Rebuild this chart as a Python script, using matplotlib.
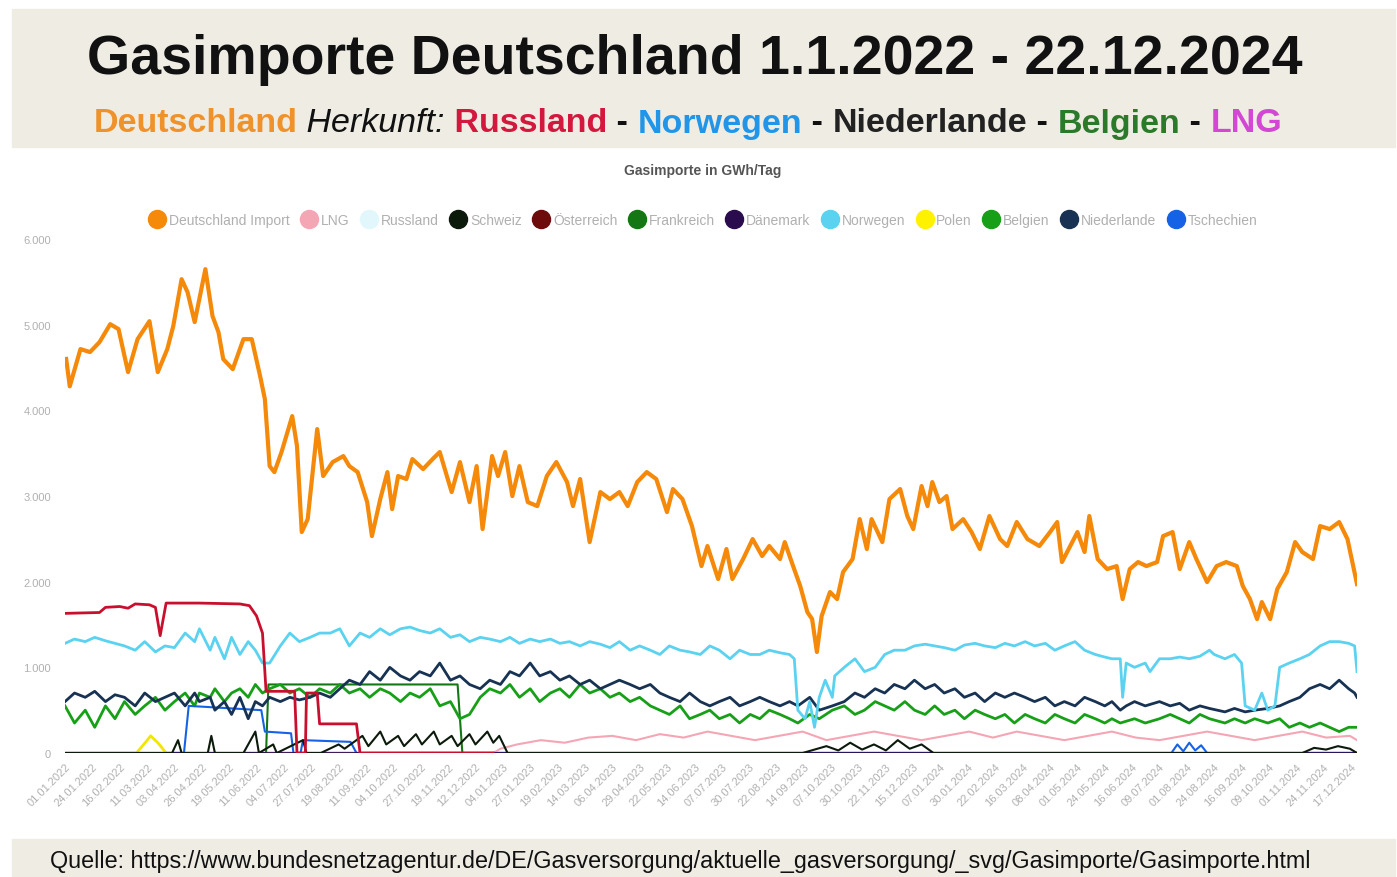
import numpy as np
import pandas as pd
import matplotlib
matplotlib.use('Agg')
import matplotlib.pyplot as plt
from matplotlib.lines import Line2D
from matplotlib.patches import Rectangle

plt.rcParams['font.family'] = ['Liberation Sans', 'DejaVu Sans']

# Daten (Tage seit 01.01.2022, Werte in GWh/Tag)
tage_de = [1, 4, 13, 21, 29, 38, 45, 53, 61, 71, 78, 86, 91, 98, 103, 109, 118, 124, 129, 133,
           141, 150, 157, 164, 168, 172, 176, 182, 191, 195, 199, 204, 212, 217, 225, 234, 239, 246, 254, 258,
           265, 271, 275, 280, 287, 292, 301, 309, 315, 325, 332, 340, 346, 351, 359, 364, 370, 376, 382, 389,
           397, 405, 413, 422, 427, 433, 441, 450, 458, 466, 473, 481, 489, 497, 506, 511, 519, 527, 535, 540,
           549, 556, 561, 570, 578, 586, 592, 601, 605, 612, 618, 624, 628, 632, 636, 643, 649, 654, 662, 668,
           674, 678, 687, 693, 702, 708, 713, 720, 725, 729, 735, 741, 746, 755, 762, 769, 777, 786, 792, 800,
           809, 819, 828, 834, 838, 845, 851, 857, 861, 868, 876, 884, 889, 895, 902, 909, 918, 923, 931, 937,
           945, 951, 960, 968, 976, 985, 990, 996, 1002, 1006, 1013, 1019, 1027, 1034, 1040, 1049, 1055, 1063, 1071, 1078,
           1086]
werte_de = [4600, 4280, 4715, 4680, 4796, 5006, 4948, 4446, 4831, 5041, 4446, 4715, 4983, 5531, 5380, 5030, 5648, 5100, 4913, 4598,
            4481, 4831, 4831, 4400, 4131, 3349, 3279, 3513, 3933, 3583, 2579, 2730, 3781, 3233, 3396, 3466, 3349, 3279, 2929, 2532,
            2964, 3279, 2847, 3233, 3198, 3431, 3314, 3431, 3513, 3046, 3396, 2929, 3349, 2614, 3466, 3233, 3513, 2999, 3349, 2929,
            2882, 3233, 3396, 3163, 2882, 3198, 2462, 3046, 2964, 3046, 2882, 3163, 3279, 3198, 2812, 3081, 2964, 2649, 2182, 2416,
            2031, 2381, 2031, 2264, 2497, 2299, 2416, 2264, 2462, 2182, 1949, 1645, 1563, 1179, 1599, 1879, 1797, 2112, 2264, 2730,
            2381, 2730, 2462, 2964, 3081, 2766, 2614, 3116, 2882, 3163, 2929, 2999, 2614, 2730, 2579, 2381, 2766, 2497, 2416, 2696,
            2497, 2416, 2579, 2696, 2229, 2416, 2579, 2346, 2766, 2264, 2147, 2182, 1797, 2147, 2229, 2182, 2229, 2532, 2579, 2147,
            2462, 2264, 1995, 2182, 2229, 2182, 1949, 1797, 1563, 1762, 1563, 1914, 2112, 2462, 2346, 2264, 2649, 2614, 2696, 2497,
            1972]

tage_no = [0, 8, 17, 25, 34, 42, 50, 59, 67, 76, 84, 92, 101, 109, 113, 122, 126, 134, 140, 147,
           154, 160, 166, 172, 181, 189, 197, 206, 214, 223, 231, 239, 248, 256, 265, 273, 282, 290, 298, 307,
           315, 324, 332, 340, 349, 357, 366, 374, 382, 391, 399, 408, 416, 424, 433, 441, 450, 458, 466, 475,
           483, 492, 500, 508, 517, 525, 534, 542, 550, 559, 567, 576, 584, 592, 601, 609, 613, 616, 622, 626,
           630, 634, 639, 645, 647, 655, 664, 672, 681, 689, 697, 706, 714, 723, 731, 739, 748, 756, 765, 773,
           782, 790, 798, 807, 815, 824, 832, 840, 849, 857, 866, 874, 880, 887, 889, 892, 899, 908, 912, 920,
           929, 937, 945, 954, 962, 966, 975, 983, 989, 992, 1000, 1006, 1011, 1017, 1021, 1029, 1038, 1046, 1055, 1063,
           1071, 1079, 1084, 1086]
werte_no = [1280, 1330, 1300, 1350, 1310, 1280, 1250, 1200, 1300, 1180, 1250, 1230, 1400, 1300, 1450, 1200, 1350, 1100, 1350, 1150,
            1300, 1200, 1050, 1050, 1250, 1400, 1300, 1350, 1400, 1400, 1450, 1250, 1400, 1350, 1450, 1380, 1450, 1470, 1430, 1400,
            1450, 1350, 1380, 1300, 1350, 1330, 1300, 1350, 1280, 1330, 1300, 1330, 1280, 1300, 1250, 1300, 1270, 1230, 1300, 1200,
            1250, 1200, 1150, 1250, 1200, 1180, 1150, 1250, 1200, 1100, 1200, 1150, 1150, 1200, 1170, 1150, 1100, 500, 400, 600,
            300, 650, 850, 650, 900, 1000, 1100, 950, 1000, 1150, 1200, 1200, 1250, 1270, 1250, 1230, 1200, 1260, 1280, 1250,
            1230, 1280, 1250, 1300, 1250, 1280, 1200, 1250, 1300, 1200, 1150, 1120, 1100, 1100, 650, 1050, 1000, 1050, 950, 1100,
            1100, 1120, 1100, 1130, 1200, 1150, 1100, 1150, 1050, 550, 500, 700, 500, 550, 1000, 1050, 1100, 1150, 1250, 1300,
            1300, 1280, 1250, 950]

tage_nl = [0, 8, 17, 25, 34, 42, 50, 59, 67, 76, 84, 92, 101, 109, 113, 122, 126, 134, 140, 147,
           154, 160, 166, 172, 181, 189, 197, 206, 214, 223, 231, 239, 248, 256, 265, 273, 282, 290, 298, 307,
           315, 324, 332, 340, 349, 357, 366, 374, 382, 391, 399, 408, 416, 424, 433, 441, 450, 458, 466, 475,
           483, 492, 500, 508, 517, 525, 534, 542, 550, 559, 567, 576, 584, 592, 601, 609, 616, 626, 634, 645,
           655, 664, 672, 681, 689, 697, 706, 714, 723, 731, 739, 748, 756, 765, 773, 782, 790, 798, 807, 815,
           824, 832, 840, 849, 857, 866, 874, 880, 887, 892, 899, 908, 920, 929, 937, 945, 954, 962, 975, 983,
           992, 1000, 1011, 1021, 1029, 1038, 1046, 1055, 1063, 1071, 1079, 1084, 1086]
werte_nl = [600, 700, 650, 720, 600, 680, 650, 550, 700, 600, 650, 700, 550, 700, 600, 650, 500, 600, 450, 650,
            400, 600, 550, 650, 600, 650, 620, 650, 700, 650, 750, 850, 800, 950, 850, 1000, 900, 850, 950, 900,
            1050, 850, 900, 800, 750, 850, 800, 950, 900, 1050, 900, 950, 850, 900, 800, 850, 750, 800, 850, 800,
            750, 800, 700, 650, 600, 700, 600, 550, 600, 650, 550, 600, 650, 600, 550, 600, 550, 650, 500, 550,
            600, 700, 650, 750, 700, 800, 750, 850, 750, 800, 700, 750, 650, 700, 600, 700, 650, 700, 650, 600,
            650, 550, 600, 550, 650, 600, 550, 600, 500, 550, 600, 550, 600, 550, 580, 500, 550, 520, 480, 520,
            480, 500, 520, 550, 600, 650, 750, 800, 750, 850, 750, 700, 650]

tage_be = [0, 8, 17, 25, 34, 42, 50, 59, 67, 76, 84, 92, 101, 109, 113, 122, 126, 134, 140, 147,
           154, 160, 166, 172, 181, 189, 197, 206, 214, 223, 231, 239, 248, 256, 265, 273, 282, 290, 298, 307,
           315, 324, 332, 340, 349, 357, 366, 374, 382, 391, 399, 408, 416, 424, 433, 441, 450, 458, 466, 475,
           483, 492, 500, 508, 517, 525, 534, 542, 550, 559, 567, 576, 584, 592, 601, 609, 616, 626, 634, 645,
           655, 664, 672, 681, 689, 697, 706, 714, 723, 731, 739, 748, 756, 765, 773, 782, 790, 798, 807, 815,
           824, 832, 840, 849, 857, 866, 874, 880, 887, 899, 908, 920, 929, 937, 945, 954, 962, 975, 983, 992,
           1000, 1011, 1021, 1029, 1038, 1046, 1055, 1063, 1071, 1079, 1086]
werte_be = [550, 350, 500, 300, 550, 400, 600, 450, 550, 650, 500, 600, 700, 550, 700, 650, 750, 600, 700, 750,
            650, 800, 700, 750, 800, 700, 750, 650, 750, 700, 800, 700, 750, 650, 750, 700, 600, 700, 650, 750,
            550, 600, 400, 450, 650, 750, 700, 800, 650, 750, 600, 700, 750, 650, 800, 700, 750, 650, 700, 600,
            650, 550, 500, 450, 550, 400, 450, 500, 400, 450, 350, 450, 400, 500, 450, 400, 350, 450, 400, 500,
            550, 450, 500, 600, 550, 500, 600, 500, 450, 550, 450, 500, 400, 500, 450, 400, 450, 350, 450, 400,
            350, 450, 400, 350, 450, 400, 350, 400, 350, 400, 350, 400, 450, 400, 350, 450, 400, 350, 400, 350,
            400, 350, 400, 300, 350, 300, 350, 300, 250, 300, 300]

tage_fr = [0, 169, 171, 330, 334, 1086]
werte_fr = [0, 0, 800, 800, 0, 0]

tage_ru = [0, 29, 34, 46, 53, 59, 71, 76, 80, 85, 113, 147, 155, 161, 166, 169, 193, 195, 202, 203,
           212, 214, 245, 248, 360]
werte_ru = [1630, 1640, 1700, 1710, 1690, 1740, 1730, 1700, 1370, 1750, 1750, 1740, 1720, 1600, 1400, 720, 720, 0, 0, 700,
            700, 340, 340, 0, 0]

tage_lng = [0, 360, 366, 380, 400, 420, 440, 460, 480, 500, 520, 540, 560, 580, 600, 620, 640, 660, 680, 700,
            720, 740, 760, 780, 800, 820, 840, 860, 880, 900, 920, 940, 960, 980, 1000, 1020, 1040, 1060, 1080, 1086]
werte_lng = [0, 0, 50, 100, 150, 120, 180, 200, 150, 220, 180, 250, 200, 150, 200, 250, 150, 200, 250, 200,
             150, 200, 250, 180, 250, 200, 150, 200, 250, 180, 150, 200, 250, 200, 150, 200, 250, 180, 200, 150]

tage_cz = [0, 100, 104, 165, 168, 190, 192, 198, 200, 240, 245, 930, 935, 940, 945, 950, 955, 960, 1086]
werte_cz = [0, 0, 550, 500, 250, 230, 0, 0, 150, 130, 0, 0, 100, 20, 120, 30, 90, 0, 0]

tage_ch = [0, 90, 95, 98, 120, 123, 126, 150, 160, 163, 175, 178, 200, 203, 215, 230, 235, 250, 255, 265,
           270, 280, 285, 295, 300, 310, 315, 325, 330, 340, 345, 355, 360, 365, 372, 620, 640, 650, 660, 670,
           680, 690, 700, 710, 720, 730, 1040, 1050, 1060, 1070, 1080, 1086]
werte_ch = [0, 0, 150, 0, 0, 200, 0, 0, 250, 0, 100, 0, 150, 0, 0, 100, 50, 200, 80, 250,
            100, 200, 80, 220, 100, 250, 100, 200, 80, 220, 100, 250, 120, 200, 0, 0, 80, 30, 120, 40,
            100, 30, 150, 50, 100, 0, 0, 60, 40, 80, 50, 0]

tage_pl = [0, 60, 65, 72, 78, 85, 1086]
werte_pl = [0, 0, 80, 200, 120, 0, 0]

tage_null = [0, 1086]
werte_null = [0, 0]

legende = ['Deutschland Import', 'LNG', 'Russland', 'Schweiz', 'Österreich', 'Frankreich',
           'Dänemark', 'Norwegen', 'Polen', 'Belgien', 'Niederlande', 'Tschechien']
farben = ['#f5890a', '#f4a6b4', '#e2f7fb', '#0b1a0b', '#6e0b0b', '#137813',
          '#2a0c4e', '#5ad2f0', '#fff200', '#17a017', '#173252', '#1662e6']

start = pd.Timestamp('2022-01-01')
def datum(t):
    return start + pd.to_timedelta(t, unit='D')

fig = plt.figure(figsize=(13.97, 8.78), dpi=100)
beige = '#efece4'
fig.patches.append(Rectangle((12/1397, 1-148/878), 1383/1397, 138/878, transform=fig.transFigure,
                             color=beige, zorder=0))
fig.patches.append(Rectangle((12/1397, 0), 1383/1397, 38/878, transform=fig.transFigure,
                             color=beige, zorder=0))

ax = fig.add_axes([65/1397, 1-754/878, 1292/1397, 514/878])

ax.plot(datum(tage_null), werte_null, color=farben[4], lw=1.5)
ax.plot(datum(tage_pl), werte_pl, color='#f2e600', lw=2)
ax.plot(datum(tage_lng), werte_lng, color=farben[1], lw=1.5)
ax.plot(datum(tage_fr), werte_fr, color=farben[5], lw=1.5)
ax.plot(datum(tage_be), werte_be, color=farben[9], lw=2)
ax.plot(datum(tage_cz), werte_cz, color=farben[11], lw=1.5)
ax.plot(datum(tage_nl), werte_nl, color=farben[10], lw=2)
ax.plot(datum(tage_null), werte_null, color=farben[6], lw=2)
ax.plot(datum(tage_ch), werte_ch, color=farben[3], lw=1.5)
ax.plot(datum(tage_no), werte_no, color=farben[7], lw=2)
ax.plot(datum(tage_ru), werte_ru, color='#c8102e', lw=2)
ax.plot(datum(tage_de), werte_de, color=farben[0], lw=3)

ax.set_ylim(0, 6000)
ax.set_xlim(datum(0), datum(1086))
ax.set_yticks(range(0, 6001, 1000))
ax.set_yticklabels(['0', '1.000', '2.000', '3.000', '4.000', '5.000', '6.000'])
ticks = pd.date_range('2022-01-01', '2024-12-22', freq='23D')
ax.set_xticks(ticks)
ax.set_xticklabels([t.strftime('%d.%m.%Y') for t in ticks], rotation=45, ha='right',
                   rotation_mode='anchor')
ax.tick_params(axis='both', length=0, labelsize=8, colors='#b0b0b0')
ax.tick_params(axis='y', pad=10)
ax.tick_params(axis='x', pad=6)
for s in ax.spines.values():
    s.set_visible(False)

handles = [Line2D([], [], marker='o', ls='', markersize=13, markerfacecolor=c, markeredgecolor=c)
           for c in farben]
fig.legend(handles, legende, loc='center', bbox_to_anchor=(0.503, 1-221/878), ncol=12, frameon=False,
           fontsize=10, handletextpad=0.2, columnspacing=0.75, labelcolor='#b0b0b0', handlelength=1.3)

fig.text(0.503, 1-171/878, 'Gasimporte in GWh/Tag', ha='center', va='center', fontsize=10,
         fontweight='bold', color='#555555')

fig.text(0.497, 1-60/878, 'Gasimporte Deutschland 1.1.2022 - 22.12.2024', ha='center', va='center',
         fontsize=40, fontweight='bold', color='#111111')

# zweite Titelzeile in Farben
teile = [('Deutschland', '#f0922b', 'normal'), (' Herkunft:', '#111111', 'italic'),
         (' Russland', '#d3173d', 'normal'), (' - ', '#111111', 'normal'),
         ('Norwegen', '#2196e8', 'normal'), (' - ', '#111111', 'normal'),
         ('Niederlande', '#222222', 'normal'), (' - ', '#111111', 'normal'),
         ('Belgien', '#2a7a2a', 'normal'), (' - ', '#111111', 'normal'),
         ('LNG', '#d447d4', 'normal')]
r = fig.canvas.get_renderer()
texte = []
for s, c, st in teile:
    t = fig.text(0, 1-124/878, s, color=c, fontsize=24.5, fontstyle=st,
                 fontweight='normal' if st == 'italic' else 'bold', va='center')
    texte.append(t)
breiten = [t.get_window_extent(r).width for t in texte]
x = 688 - sum(breiten) / 2
for t, b in zip(texte, breiten):
    t.set_x(x / 1397)
    x += b

fig.text(50/1397, 1-862/878,
         'Quelle: https://www.bundesnetzagentur.de/DE/Gasversorgung/aktuelle_gasversorgung/_svg/Gasimporte/Gasimporte.html',
         ha='left', va='center', fontsize=16.8, color='#111111')

fig.savefig('out.png', dpi=100)
